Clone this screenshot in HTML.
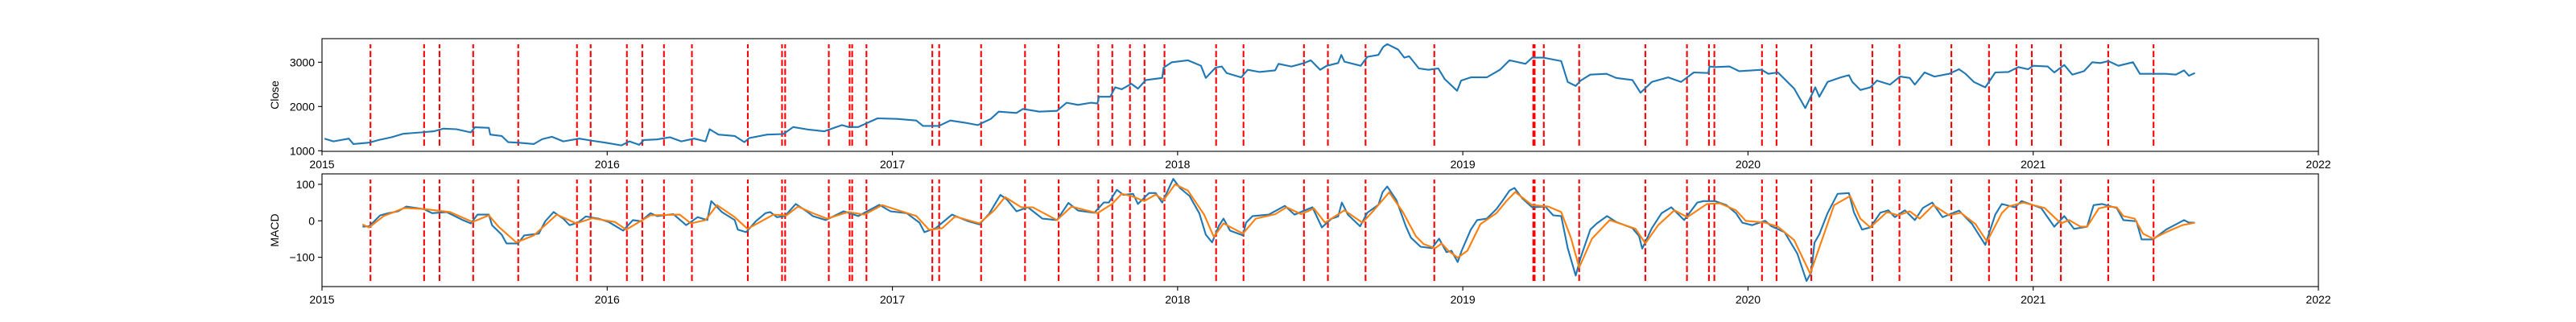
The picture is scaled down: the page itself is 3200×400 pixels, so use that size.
<!DOCTYPE html>
<html><head><meta charset="utf-8"><style>
html,body{margin:0;padding:0;background:#fff;}
svg{display:block;font-family:"Liberation Sans","DejaVu Sans",sans-serif;}
</style></head>
<body>
<svg id="chart" width="3200" height="400" viewBox="0 0 3200 400" xmlns="http://www.w3.org/2000/svg">
<rect x="0" y="0" width="3200" height="400" fill="#fff"/>
<g id="top"></g>
<g id="bot"></g>
</svg>
<script>
const yearTicks = [2015,2016,2017,2018,2019,2020,2021,2022];
const closeTicks = [1000,2000,3000];
const macdTicks = [-100,0,100];
const signalDates = [0.170,0.358,0.412,0.530,0.688,0.894,0.942,1.069,1.123,1.199,1.297,1.493,1.613,1.624,1.777,1.850,1.859,1.909,2.140,2.164,2.311,2.465,2.583,2.722,2.771,2.833,2.884,2.954,3.135,3.231,3.443,3.527,3.659,3.900,4.247,4.252,4.284,4.408,4.640,4.786,4.863,4.882,5.049,5.100,5.222,5.436,5.531,5.713,5.845,5.941,5.995,6.097,6.263,6.422];
const closeT = [0.009,0.04,0.094,0.11,0.165,0.199,0.244,0.284,0.346,0.392,0.426,0.471,0.522,0.536,0.585,0.590,0.63,0.653,0.687,0.743,0.772,0.806,0.846,0.902,0.948,0.993,1.05,1.078,1.112,1.129,1.175,1.22,1.26,1.305,1.345,1.359,1.39,1.447,1.481,1.498,1.561,1.618,1.652,1.708,1.761,1.823,1.846,1.88,1.948,2.016,2.084,2.107,2.163,2.203,2.254,2.299,2.345,2.373,2.435,2.458,2.515,2.577,2.611,2.651,2.696,2.719,2.724,2.764,2.781,2.804,2.838,2.861,2.889,2.946,2.951,2.98,3.036,3.082,3.099,3.133,3.155,3.172,3.223,3.246,3.286,3.342,3.354,3.399,3.444,3.467,3.50,3.523,3.563,3.574,3.585,3.642,3.665,3.704,3.721,3.735,3.773,3.795,3.812,3.846,3.88,3.914,3.937,3.98,3.994,4.028,4.084,4.13,4.164,4.22,4.243,4.283,4.345,4.368,4.396,4.413,4.447,4.504,4.538,4.595,4.623,4.663,4.72,4.765,4.81,4.861,4.865,4.884,4.935,4.969,5.048,5.071,5.105,5.162,5.201,5.236,5.25,5.279,5.325,5.354,5.366,5.394,5.429,5.452,5.498,5.533,5.567,5.585,5.619,5.654,5.705,5.74,5.763,5.792,5.832,5.867,5.913,5.948,5.982,6.0,6.051,6.074,6.109,6.137,6.178,6.207,6.235,6.264,6.299,6.35,6.374,6.42,6.466,6.5,6.529,6.546,6.567];
const closeV = [1274,1213,1274,1152,1183,1244,1305,1384,1415,1439,1500,1488,1415,1530,1518,1366,1335,1195,1183,1152,1262,1317,1213,1274,1226,1183,1122,1213,1134,1244,1256,1305,1213,1274,1213,1488,1366,1335,1195,1287,1366,1378,1537,1476,1439,1579,1537,1537,1732,1720,1683,1561,1561,1683,1634,1579,1720,1884,1854,1945,1884,1902,2085,2037,2085,2067,2220,2220,2433,2390,2512,2403,2598,2646,2878,3000,3043,2921,2646,2878,2903,2756,2659,2830,2781,2817,2964,2903,2982,3043,2830,2921,2982,3165,3012,2921,3122,3165,3348,3409,3287,3104,3134,2860,2830,2860,2616,2354,2586,2659,2659,2830,3043,2964,3104,3104,3025,2555,2464,2586,2720,2738,2646,2598,2311,2555,2659,2555,2769,2756,2903,2891,2903,2799,2830,2738,2769,2403,1963,2433,2220,2555,2659,2708,2555,2372,2433,2586,2494,2677,2646,2494,2769,2677,2738,2842,2738,2555,2433,2769,2781,2891,2842,2921,2903,2769,2939,2720,2799,3000,2982,3025,2921,3000,2738,2738,2738,2720,2817,2695,2756];
const macdT = [0.142,0.165,0.204,0.233,0.267,0.295,0.358,0.386,0.437,0.494,0.522,0.545,0.585,0.596,0.63,0.647,0.687,0.709,0.76,0.783,0.812,0.846,0.868,0.897,0.925,0.97,1.005,1.056,1.09,1.118,1.152,1.175,1.232,1.277,1.317,1.351,1.365,1.402,1.447,1.458,1.487,1.521,1.555,1.572,1.595,1.623,1.661,1.703,1.721,1.766,1.829,1.88,1.954,1.993,2.05,2.095,2.112,2.152,2.209,2.265,2.305,2.339,2.379,2.401,2.435,2.475,2.526,2.577,2.617,2.651,2.708,2.741,2.759,2.787,2.81,2.844,2.861,2.9,2.923,2.946,2.985,3.008,3.042,3.076,3.099,3.121,3.144,3.161,3.184,3.229,3.24,3.263,3.32,3.376,3.41,3.473,3.506,3.54,3.563,3.576,3.597,3.64,3.665,3.704,3.719,3.735,3.767,3.801,3.818,3.852,3.892,3.917,3.943,3.96,3.982,3.996,4.028,4.05,4.084,4.118,4.141,4.164,4.181,4.209,4.243,4.289,4.317,4.345,4.368,4.396,4.413,4.447,4.47,4.506,4.538,4.595,4.618,4.629,4.663,4.697,4.731,4.776,4.822,4.844,4.884,4.924,4.958,4.98,5.014,5.06,5.082,5.128,5.173,5.205,5.222,5.233,5.25,5.279,5.314,5.354,5.371,5.4,5.429,5.464,5.492,5.515,5.55,5.585,5.613,5.646,5.682,5.74,5.786,5.832,5.867,5.89,5.936,5.959,6.028,6.074,6.109,6.143,6.189,6.212,6.241,6.293,6.316,6.362,6.38,6.42,6.466,6.529,6.546,6.567];
const macdV = [-16,-15,15,21,26,39,32,21,24,2,-7,17,17,-12,-38,-62,-62,-40,-35,-1,24,6,-12,-5,12,6,-3,-27,2,-1,21,13,18,-12,10,2,54,24,2,-24,-31,-1,21,24,10,13,46,24,13,2,26,13,44,26,21,-5,-31,-20,17,-1,-10,19,71,59,26,37,6,2,49,28,22,50,50,85,71,74,46,76,76,50,115,90,68,21,-38,-59,-15,6,-27,-40,-5,13,17,41,17,37,-18,6,12,50,17,-15,22,44,79,94,57,-16,-46,-71,-75,-49,-86,-82,-113,-82,-24,2,6,32,57,83,90,61,37,39,15,13,-75,-150,-101,-24,-7,13,-3,-20,-42,-76,-20,21,37,2,50,54,54,43,21,-5,-12,0,-15,-31,-90,-165,-141,-60,-37,21,74,76,24,-24,-18,22,29,10,29,2,35,50,10,28,-9,-66,17,46,37,54,35,-16,13,-22,-16,43,46,35,2,-1,-51,-51,-24,2,-5,-5];
const sigT = [0.142,0.165,0.216,0.289,0.363,0.448,0.528,0.585,0.619,0.681,0.743,0.823,0.891,0.948,1.027,1.067,1.152,1.254,1.294,1.345,1.385,1.447,1.492,1.583,1.629,1.669,1.721,1.771,1.845,1.902,1.964,2.084,2.129,2.175,2.22,2.305,2.356,2.395,2.452,2.492,2.577,2.628,2.719,2.77,2.804,2.838,2.883,2.923,2.951,2.991,3.036,3.093,3.127,3.161,3.229,3.274,3.342,3.382,3.433,3.478,3.517,3.585,3.648,3.687,3.742,3.79,3.835,3.863,3.903,3.926,3.948,3.982,4.016,4.062,4.118,4.153,4.184,4.243,4.3,4.345,4.379,4.408,4.453,4.515,4.606,4.64,4.685,4.742,4.787,4.856,4.901,4.958,4.992,5.06,5.105,5.162,5.218,5.256,5.302,5.358,5.394,5.429,5.487,5.527,5.567,5.602,5.65,5.705,5.746,5.798,5.838,5.89,5.913,5.965,6.04,6.097,6.126,6.166,6.189,6.23,6.258,6.293,6.316,6.356,6.385,6.42,6.466,6.523,6.567];
const sigV = [-10,-18,13,35,32,24,-3,15,-16,-59,-40,17,-7,7,-3,-24,15,17,-7,2,43,10,-22,17,15,39,21,6,24,17,43,13,-25,-20,12,-7,28,65,37,37,2,39,21,46,74,68,54,72,57,100,83,17,-44,-7,-35,6,18,37,18,34,-5,29,-5,28,78,24,-42,-64,-75,-62,-81,-101,-82,-9,21,54,79,43,39,24,-46,-128,-49,2,-22,-62,-12,29,10,46,48,29,0,-5,-16,-53,-145,-60,43,68,6,-18,24,15,26,6,43,15,22,-9,-57,21,39,50,35,-7,2,-16,-16,34,39,37,13,6,-35,-49,-31,-12,-5];

const NS='http://www.w3.org/2000/svg';
const L=400,R=2880;
const xs = t => L + (t)/7*(R-L);           // t = years since 2015
const xYear = y => xs(y-2015);
const yClose = v => 188 - (v-987)/(3533-987)*140;
const yMacd = v => 356 - (v+180.2)/(128.6+180.2)*140;
function mk(tag, attrs, parent){const e=document.createElementNS(NS,tag);for(const k in attrs)e.setAttribute(k,attrs[k]);parent.appendChild(e);return e;}

function panel(g, top, bottom, yTicks, yFn, ylabel, prefix){
  // red signal lines
  const h=bottom-top;
  signalDates.forEach((d,i)=>{
    const ln=mk('line',{x1:xs(d),x2:xs(d),y1:bottom-0.05*h,y2:top+0.05*h,stroke:'#ff0000','stroke-width':2.1,'stroke-dasharray':'7.7,3.3'},g);
    
    
  });
  yTicks.forEach(v=>{
    const y=yFn(v);
    const t=mk('line',{x1:L-5,x2:L,y1:y,y2:y,stroke:'#000','stroke-width':1.1},g);
    
    
    const tx=mk('text',{x:L-9,y:y+5,'text-anchor':'end','font-size':14,fill:'#000'},g);
    tx.textContent=(v<0?'\u2212'+Math.abs(v):String(v));
    
    
  });
  yearTicks.forEach(yr=>{
    const x=xYear(yr);
    const t=mk('line',{x1:x,x2:x,y1:bottom,y2:bottom+5,stroke:'#000','stroke-width':1.1},g);
    
    
    const tx=mk('text',{x:x,y:bottom+21,'text-anchor':'middle','font-size':14,fill:'#000'},g);
    tx.textContent=String(yr);
    
    
  });
  const lab=mk('text',{x:0,y:0,'text-anchor':'middle','font-size':14,fill:'#000',transform:`translate(346,${(top+bottom)/2}) rotate(-90)`},g);
  lab.textContent=ylabel;
  
  
}
function series(g, T, V, yFn, color, name){
  const d=T.map((t,i)=>(i?'L':'M')+xs(t).toFixed(1)+','+yFn(V[i]).toFixed(1)).join(' ');
  const p=mk('path',{d:d,fill:'none',stroke:color,'stroke-width':2.1,'stroke-linejoin':'round'},g);
  
  
}
function frame(g, top, bottom, prefix){
  const r=mk('rect',{x:L,y:top,width:R-L,height:bottom-top,fill:'none',stroke:'#000','stroke-width':1.1},g);
  
  
}
const gt=document.getElementById('top'), gb=document.getElementById('bot');
panel(gt,48,188,closeTicks,yClose,'Close','close');
series(gt,closeT,closeV,yClose,'#1f77b4','close-line');
frame(gt,48,188,'close');
panel(gb,216,356,macdTicks,yMacd,'MACD','macd');
series(gb,macdT,macdV,yMacd,'#1f77b4','macd-line');
series(gb,sigT,sigV,yMacd,'#ff7f0e','signal-line');
frame(gb,216,356,'macd');
</script>
</body></html>
